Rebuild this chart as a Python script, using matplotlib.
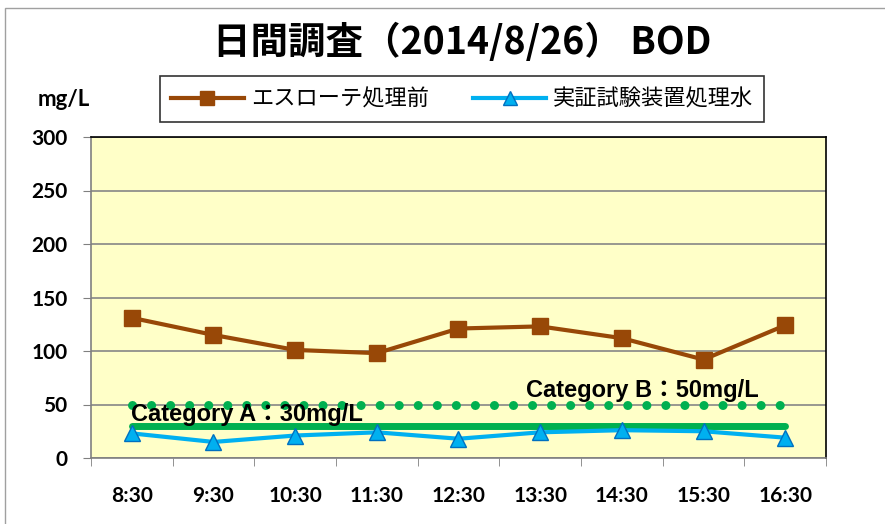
import matplotlib.pyplot as plt
from matplotlib.patches import Rectangle

plt.rcParams['font.family'] = ['Noto Sans CJK JP', 'DejaVu Sans']

# Data
times = ["8:30", "9:30", "10:30", "11:30", "12:30", "13:30", "14:30", "15:30", "16:30"]
before = [131, 115, 101, 98, 121, 123, 112, 92, 124]
treated = [23, 15, 21, 24, 18, 24, 26, 25, 19]
limit_a = [30] * len(times)
limit_b = [50] * len(times)

num_font = ['Lato', 'Noto Sans CJK JP']
cat_font = ['Liberation Sans', 'Noto Sans CJK JP']

fig = plt.figure(figsize=(8.85, 5.24), dpi=100)

# outer chart frame
fig.patches.append(Rectangle((5 / 885, -0.1), 1.2, (524 - 8) / 524 + 0.1,
                             transform=fig.transFigure, fill=False,
                             edgecolor='#a0a0a0', linewidth=1.0))

ax = fig.add_axes([91 / 885, 1 - 458 / 524, 735 / 885, 321 / 524])
ax.set_facecolor('#ffffc8')

x = list(range(len(times)))
ax.plot(x, limit_b, linestyle=(0, (0.01, 2.1)), color='#00b050', linewidth=6.5,
        dash_capstyle='round', zorder=2)
ax.plot(x, limit_a, color='#00b050', linewidth=5, solid_capstyle='round', zorder=2)
l1, = ax.plot(x, before, color='#984807', linewidth=3, marker='s', markersize=12,
              markerfacecolor='#984807', markeredgecolor='#984807', zorder=4,
              label='エスローテ処理前')
l2, = ax.plot(x, treated, color='#00b0f0', linewidth=3, marker='^', markersize=12,
              markerfacecolor='#00b0f0', markeredgecolor='#0070c0', zorder=4,
              label='実証試験装置処理水')

ax.text(-0.01, 41, 'Category A：30mg/L', fontsize=17, fontweight='bold', family=cat_font,
        va='center', ha='left', zorder=5)
ax.text(4.83, 63, 'Category B：50mg/L', fontsize=17, fontweight='bold', family=cat_font,
        va='center', ha='left', zorder=5)

ax.set_xlim(-0.5, len(times) - 0.5)
ax.set_ylim(0, 300)
ax.set_yticks(range(0, 301, 50))
ax.set_yticklabels([str(v) for v in range(0, 301, 50)], fontsize=15,
                   fontweight='bold', family=num_font)
ax.set_xticks(x)
ax.set_xticklabels(times, fontsize=15, fontweight='bold', family=num_font)
ax.set_xticks([i - 0.5 for i in range(len(times) + 1)], minor=True)
ax.tick_params(axis='x', which='major', length=0, pad=20)
ax.tick_params(axis='x', which='minor', length=6, color='#808080', direction='out')
ax.tick_params(axis='y', length=6, color='#808080', direction='out', pad=11)
ax.grid(axis='y', color='#868686', linewidth=1.2)
ax.set_axisbelow(True)
ax.spines['top'].set_color('#000000')
ax.spines['right'].set_color('#000000')
ax.spines['left'].set_color('#808080')
ax.spines['bottom'].set_color('#808080')
for s in ax.spines.values():
    s.set_linewidth(1.2)

fig.text(462 / 885, 1 - 42 / 524, '日間調査（2014/8/26） BOD', fontsize=27,
         fontweight='bold', ha='center', va='center')
fig.text(64 / 885, 1 - 100 / 524, 'mg/L', fontsize=16, fontweight='bold',
         family=num_font, ha='center', va='center')

leg = fig.legend(handles=[l1, l2], loc='center', bbox_to_anchor=(462 / 885, 1 - 99 / 524),
                 ncol=2, fontsize=16, frameon=True, fancybox=False,
                 edgecolor='black', handlelength=3.3, columnspacing=2.0,
                 borderpad=0.5, handletextpad=0.3, markerscale=0.85)
leg.get_frame().set_linewidth(1.2)

fig.savefig('out.png', dpi=100)
